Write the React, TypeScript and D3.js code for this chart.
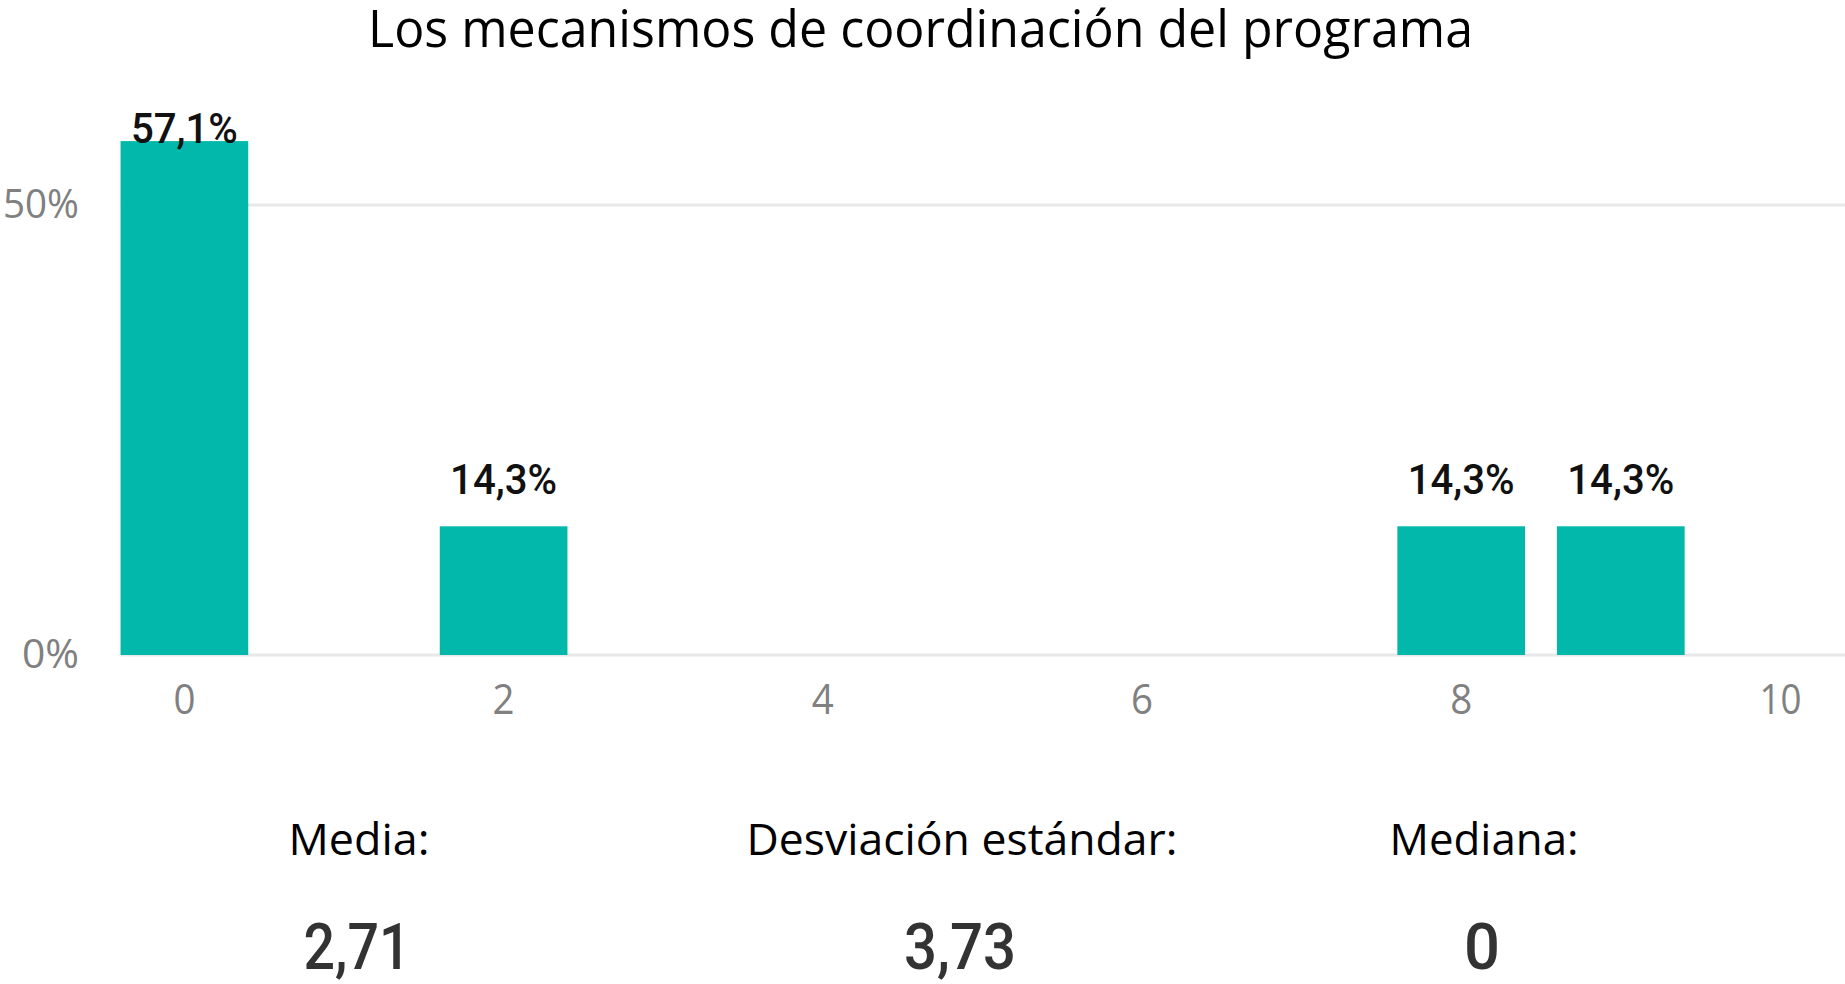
import React from "react";
import * as d3 from "d3";

const title = "Los mecanismos de coordinación del programa";
const scores = ["0", "1", "2", "3", "4", "5", "6", "7", "8", "9", "10"];
const percents = [57.1, 0, 14.3, 0, 0, 0, 0, 0, 14.3, 14.3, 0];
const xTickLabels = ["0", "2", "4", "6", "8", "10"];
const yTicks = [0, 50];
const statLabels = ["Media:", "Desviación estándar:", "Mediana:"];
const statValues = ["2,71", "3,73", "0"];

const W = 1845;
const H = 984;

export default function App() {
  const x = d3
    .scaleBand<string>()
    .domain(scores)
    .range([104.6, 1860.2])
    .paddingInner(0.2)
    .paddingOuter(0.1);
  const y = d3.scaleLinear().domain([0, 50]).range([655, 205]);
  const fmt = (v: number) => d3.format(".1f")(v).replace(".", ",") + "%";
  const statX = [359, 962, 1484];
  const statW = [141, 431, 189];
  const valW = [107, 112, 36];
  const gridX0 = x("0") as number;

  return (
    <svg
      width={W}
      height={H}
      style={{ position: "absolute", left: 0, top: 0, display: "block", background: "#fff" }}
    >
      <text
        x={368}
        y={46.5}
        fontFamily="'Open Sans', 'Noto Sans', sans-serif"
        fontSize={51}
        fill="#000"
        textLength={1105}
        lengthAdjust="spacingAndGlyphs"
      >
        {title}
      </text>

      {yTicks.map((t) => (
        <g key={"g" + t}>
          <line x1={gridX0} x2={W} y1={y(t)} y2={y(t)} stroke="#e8e8e8" strokeWidth={3} />
          <text
            x={79}
            y={y(t) + 13}
            textAnchor="end"
            fontFamily="'Open Sans', 'Noto Sans', sans-serif"
            fontWeight={400}
            fontSize={41}
            fill="#808080"
            textLength={t === 0 ? 57 : 76}
            lengthAdjust="spacingAndGlyphs"
          >
            {t + "%"}
          </text>
        </g>
      ))}

      {scores.map((s, i) =>
        percents[i] > 0 ? (
          <rect
            key={"b" + s}
            x={x(s)}
            y={y(percents[i])}
            width={x.bandwidth()}
            height={y(0) - y(percents[i])}
            fill="#01B8AA"
          />
        ) : null
      )}

      {scores.map((s, i) =>
        percents[i] > 0 ? (
          <text
            key={"l" + s}
            x={(x(s) as number) + x.bandwidth() / 2}
            y={Math.max(y(percents[i]) - 32, 143)}
            textAnchor="middle"
            fontFamily="Roboto, sans-serif"
            fontWeight={500}
            fontSize={43}
            fill="#111"
            textLength={107}
            lengthAdjust="spacingAndGlyphs"
          >
            {fmt(percents[i])}
          </text>
        ) : null
      )}

      {xTickLabels.map((t) => (
        <text
          key={"x" + t}
          x={(x(t) as number) + x.bandwidth() / 2}
          y={714}
          textAnchor="middle"
          fontFamily="'Open Sans', 'Noto Sans', sans-serif"
          fontSize={42}
          fill="#808080"
          textLength={t.length === 1 ? 22 : 42}
          lengthAdjust="spacingAndGlyphs"
        >
          {t}
        </text>
      ))}

      {statLabels.map((l, i) => (
        <text
          key={"s" + i}
          x={statX[i]}
          y={855}
          textAnchor="middle"
          fontFamily="'Open Sans', 'Noto Sans', sans-serif"
          fontSize={44}
          fill="#000"
          textLength={statW[i]}
          lengthAdjust="spacingAndGlyphs"
        >
          {l}
        </text>
      ))}

      {statValues.map((v, i) => (
        <text
          key={"v" + i}
          x={statX[i] - 2}
          y={969}
          textAnchor="middle"
          fontFamily="Roboto, sans-serif"
          fontWeight={500}
          fontSize={65}
          fill="#333"
          textLength={valW[i]}
          lengthAdjust="spacingAndGlyphs"
        >
          {v}
        </text>
      ))}
    </svg>
  );
}
